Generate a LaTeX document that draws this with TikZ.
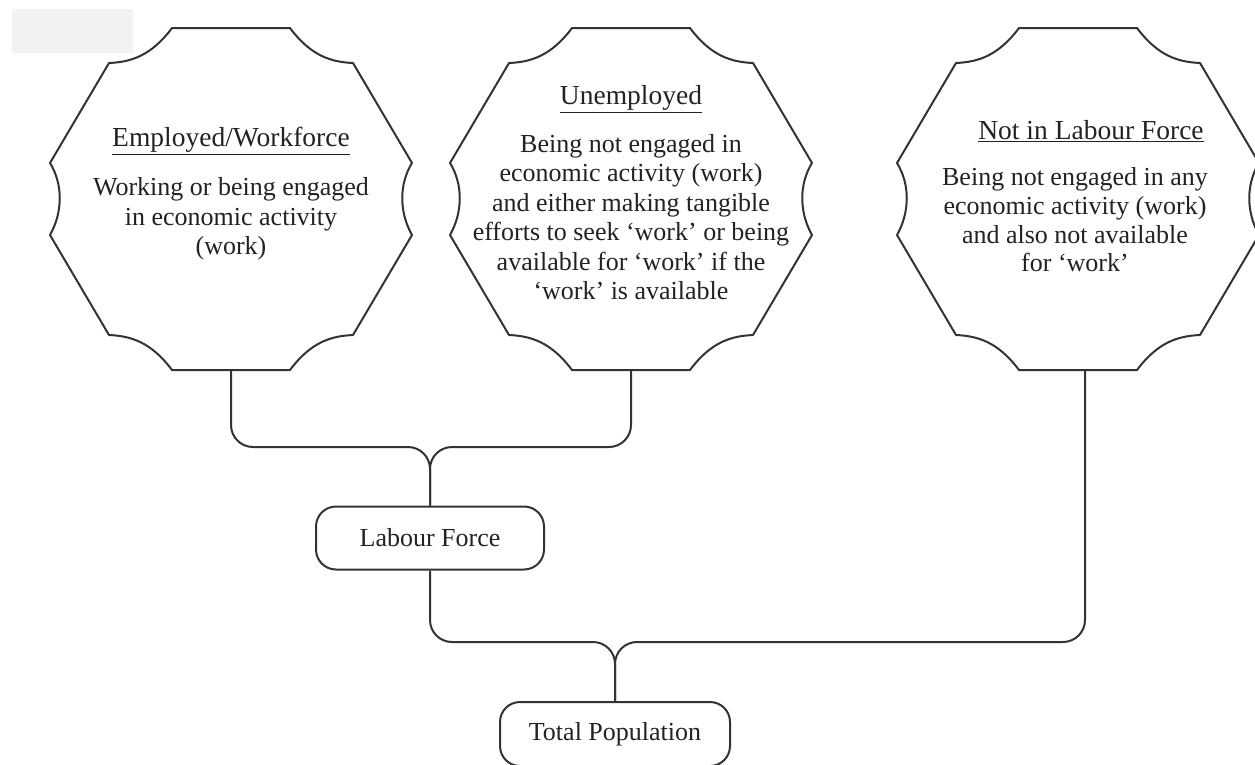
\documentclass[tikz,border=0pt]{standalone}
\usepackage{fontspec}
\setmainfont{Liberation Serif}
\definecolor{ink}{HTML}{222222}
\definecolor{wire}{HTML}{333333}
\definecolor{tab}{HTML}{F2F2F2}

% Outline of a category plaque: flat top and bottom, slanted sides,
% concave scallops at the six corners; #1 is the node it surrounds.
\newcommand\plaqueoutline[1]{%
  \draw[outline, shift={(#1.center)}]
    (-59,-171) -- (59,-171)
    .. controls (80,-143) and (100,-137) .. (122,-136)
    -- (181,-36)
    .. controls (168,-15) and (168,13) .. (181,36)
    -- (122,136)
    .. controls (100,137) and (80,143) .. (59,171)
    -- (-59,171)
    .. controls (-80,143) and (-100,137) .. (-122,136)
    -- (-181,36)
    .. controls (-168,13) and (-168,-15) .. (-181,-36)
    -- (-122,-136)
    .. controls (-100,-137) and (-80,-143) .. (-59,-171)
    -- cycle;}

\begin{document}
\begin{tikzpicture}[x=1pt,y=-1pt,
  outline/.style={draw=wire, line width=2pt, line join=round},
  conn/.style={draw=wire, line width=2pt, rounded corners=22pt},
  plaque/.style={minimum width=362pt, minimum height=342pt, inner sep=0pt, draw=none},
  txt/.style={font=\fontsize{26}{29.5}\selectfont, text=ink, inner sep=0pt},
  heading/.style={txt, font=\fontsize{27.5}{30}\selectfont},
  body/.style={txt, align=center},
  pill/.style={outline, rounded corners=20pt, minimum width=228pt,
               minimum height=63pt, inner sep=0pt,
               font=\fontsize{26}{29.5}\selectfont, text=ink}]

\useasboundingbox (0,0) rectangle (1255,764);

% small grey tab in the upper left corner
\fill[tab] (12,9) rectangle (133,53);

% the three category plaques
\node[plaque] (emp)   at (231,199) {};
\node[plaque] (unemp) at (631,199) {};
\node[plaque] (nilf)  at (1078,199) {};
\plaqueoutline{emp}
\plaqueoutline{unemp}
\plaqueoutline{nilf}

\node[heading] (emph)   at (231,141) {\underline{Employed/Workforce}};
\node[body]    (empb)   at (231,219) {Working or being engaged\\in economic activity\\(work)};

\node[heading] (unemph) at (631,99)  {\underline{Unemployed}};
\node[body]    (unempb) at (631,217) {Being not engaged in\\economic activity (work)\\and either making tangible\\efforts to seek ‘work’ or being\\available for ‘work’ if the\\‘work’ is available};

\node[heading] (nilfh)  at (1091,131) {\underline{Not in Labour Force}};
\node[body, font=\fontsize{26}{28.7}\selectfont] (nilfb) at (1075,220) {Being not engaged in any\\economic activity (work)\\and also not available\\for ‘work’};

% aggregate boxes
\node[pill] (lf) at (430,538) {Labour Force};
\node[pill, minimum width=230pt, minimum height=64pt] (tp) at (615,734) {Total Population};

% levels of the horizontal connector runs
\coordinate (bus1) at (0,447);
\coordinate (bus2) at (0,642);

\draw[conn] (emp.south)   |- (lf.north |- bus1) -- (lf.north);
\draw[conn] (unemp.south) |- (lf.north |- bus1) -- (lf.north);
\draw[conn] (lf.south)    |- (tp.north |- bus2) -- (tp.north);
\draw[conn] ([xshift=7pt]nilf.south) |- (tp.north |- bus2) -- (tp.north);
\end{tikzpicture}
\end{document}
